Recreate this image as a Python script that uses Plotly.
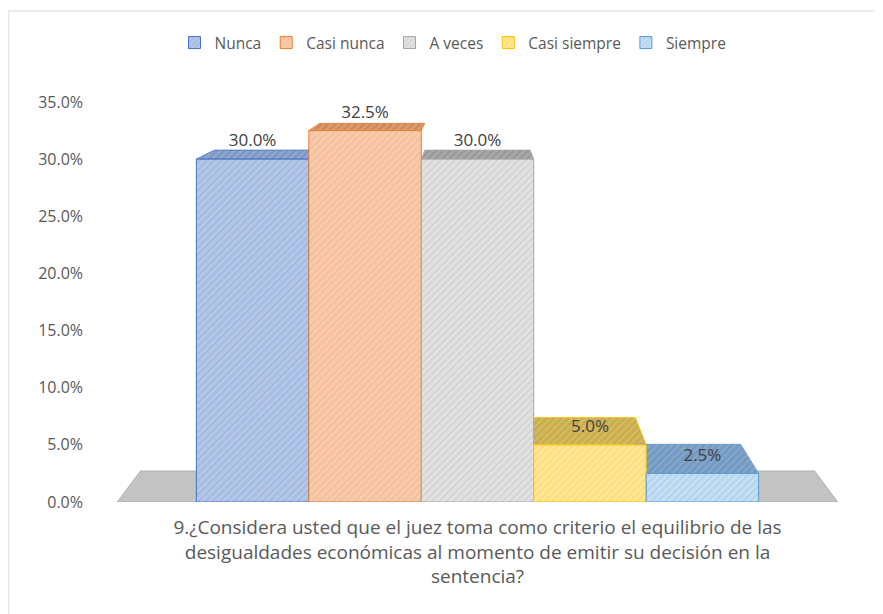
import plotly.graph_objects as go

# ---- data ----
categories = ["Nunca", "Casi nunca", "A veces", "Casi siempre", "Siempre"]
values = [30.0, 32.5, 30.0, 5.0, 2.5]
question = ("9.¿Considera usted que el juez toma como criterio el equilibrio de las<br>"
            "desigualdades económicas al momento de emitir su decisión en la<br>"
            "sentencia?")
y_ticks = [0, 5, 10, 15, 20, 25, 30, 35]
y_ticktext = [f"{t:.1f}%" for t in y_ticks]

# ---- style ----
front_colors = ["#b4c7e7", "#f8cbad", "#e2e2e2", "#ffe699", "#c5dff5"]
stripe_colors = ["#8eaadb", "#f4b183", "#c4c4c4", "#ffd34d", "#9dc3e6"]
border_colors = ["#4472c4", "#ed7d31", "#a5a5a5", "#ffc000", "#5b9bd5"]
top_colors = ["#8fa6cf", "#d99a6c", "#a8a8a8", "#c9ad4e", "#7399c2"]
top_stripes = ["#7a93c0", "#c98557", "#969696", "#d6bd62", "#86a8cc"]
TXT = "#595959"
FONT = "Open Sans"

group_frac = 0.765
bw = group_frac / len(values)
persp_s = 0.936      # depth scale of the 3-D back face
vp_y = 42.35         # vanishing height (in % units)
floor_half = 0.49
label_lift = 1.5

fig = go.Figure()

# floor
fx0, fx1 = -floor_half, floor_half
fig.add_trace(go.Scatter(
    x=[fx0, fx1, fx1 * persp_s, fx0 * persp_s, fx0],
    y=[0, 0, vp_y * (1 - persp_s), vp_y * (1 - persp_s), 0],
    mode="lines", fill="toself", fillcolor="#c3c3c3",
    line=dict(color="#b0b0b0", width=1), showlegend=False,
    hoverinfo="skip", zorder=-2))

centers = [(i - (len(values) - 1) / 2) * bw for i in range(len(values))]

# top faces
for i, v in enumerate(values):
    x0, x1 = centers[i] - bw / 2, centers[i] + bw / 2
    vb = vp_y + (v - vp_y) * persp_s
    fig.add_trace(go.Scatter(
        x=[x0, x1, x1 * persp_s, x0 * persp_s, x0],
        y=[v, v, vb, vb, v],
        mode="lines", fill="toself", fillcolor=top_colors[i],
        fillpattern=dict(shape="/", fgcolor=top_stripes[i], bgcolor=top_colors[i],
                         size=5, solidity=0.35, fillmode="replace"),
        line=dict(color=border_colors[i], width=0.8), showlegend=False,
        hoverinfo="skip", zorder=-1))

# bar fronts
for i, (c, v) in enumerate(zip(categories, values)):
    fig.add_trace(go.Bar(
        x=[centers[i]], y=[v], width=[bw], name=c,
        marker=dict(color=front_colors[i],
                    line=dict(color=border_colors[i], width=1),
                    pattern=dict(shape="/", fgcolor=stripe_colors[i],
                                 size=5, solidity=0.35, fillmode="overlay")),
        hoverinfo="skip"))

# data labels
fig.add_trace(go.Scatter(
    x=centers, y=[v + label_lift for v in values],
    text=[f"{v:.1f}%" for v in values], mode="text",
    textfont=dict(family=FONT, size=17, color="#404040"),
    showlegend=False, hoverinfo="skip", cliponaxis=False, zorder=1))

# page body has an 8px margin, so the figure is offset by 8px
W, H = 875, 606
L, R, T, B = 102, 38, 94, 112
pw, ph = W - L - R, H - T - B
bx = (0.5 - L) / pw
ty = 1 + (T - 3) / ph
by = (T + ph - H - 20) / ph

fig.update_layout(
    width=W, height=H,
    margin=dict(l=L, r=R, t=T, b=B, autoexpand=False),
    paper_bgcolor="white", plot_bgcolor="white",
    barmode="overlay",
    font=dict(family=FONT, color=TXT, size=15),
    legend=dict(orientation="h", x=(445 - L) / pw, xanchor="center",
                y=1 + (T - 35) / ph, yanchor="middle",
                font=dict(size=15.5, color=TXT),
                itemwidth=30, tracegroupgap=0, traceorder="normal"),
    xaxis=dict(range=[-0.5, 0.5], tickvals=[0], ticktext=[question],
               showgrid=False, zeroline=False, showline=False, ticks="",
               tickfont=dict(size=19, color=TXT), automargin=False,
               ticklabelstandoff=12, fixedrange=True),
    yaxis=dict(range=[0, 35], tickvals=y_ticks, ticktext=y_ticktext,
               showgrid=False, zeroline=False, showline=False, ticks="",
               tickfont=dict(size=16, color=TXT), ticklabelstandoff=26,
               automargin=False, fixedrange=True),
    shapes=[dict(type="path", xref="paper", yref="paper",
                 path=f"M {bx} {by} L {bx} {ty} L 1.2 {ty}",
                 line=dict(color="#e6e6e6", width=1.5), layer="below")],
)

fig.write_html("out.html")
